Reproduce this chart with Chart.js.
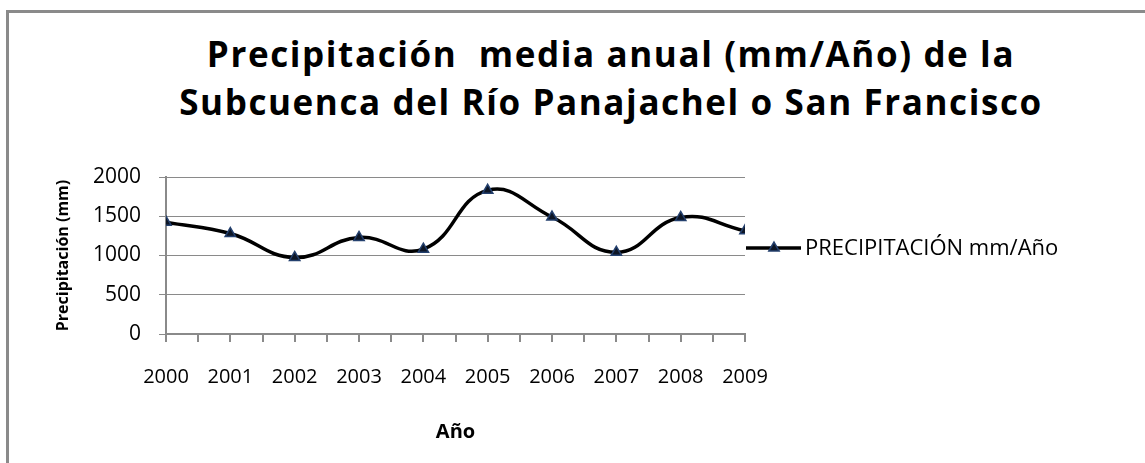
<!DOCTYPE html>
<html>
<head>
<meta charset="utf-8">
<script src="https://cdn.jsdelivr.net/npm/chart.js@4.4.1/dist/chart.umd.min.js"></script>
<style>
  html, body { margin: 0; padding: 0; background: #fff; }
  #wrap { position: relative; width: 1145px; height: 463px; overflow: hidden; }
  #frame {
    position: absolute; left: 6px; top: 10px; right: -20px; bottom: -20px;
    border-top: 3px solid #8a8a8a; border-left: 3px solid #8a8a8a;
  }
  #titulo {
    position: absolute; left: 0; top: 30px; width: 1222px;
    text-align: center; white-space: pre;
    font-family: "Open Sans", sans-serif; font-weight: 700;
    font-size: 35px; line-height: 48px; letter-spacing: 1.6px; color: #000;
  }
  canvas { position: absolute; left: 0; top: 0; }
</style>
</head>
<body>
<div id="wrap">
  <div id="frame"></div>
  <div id="titulo">Precipitación  media anual (mm/Año) de la
Subcuenca del Río Panajachel o San Francisco</div>
  <canvas id="grafico" width="1145" height="463"></canvas>
</div>
<script>
// Precipitación media anual
var ANOS = [2000, 2001, 2002, 2003, 2004, 2005, 2006, 2007, 2008, 2009];
var PRECIPITACION = [1425, 1280, 975, 1230, 1080, 1830, 1490, 1040, 1485, 1315];
var Y_TICKS = [0, 500, 1000, 1500, 2000];
var SERIE = "PRECIPITACIÓN mm/Año";

var GRIS = "#8a8a8a";
var FUENTE = "'Open Sans', sans-serif";

// leyenda dibujada a mano: línea + triángulo, a la derecha del área del gráfico
var leyendaPlugin = {
  id: "leyendaLinea",
  afterDraw: function (chart) {
    var ctx = chart.ctx;
    var ds = chart.data.datasets[0];
    var x0 = chart.chartArea.right + 1;
    var y = 248;
    ctx.save();
    ctx.strokeStyle = ds.borderColor;
    ctx.lineWidth = ds.borderWidth;
    ctx.beginPath();
    ctx.moveTo(x0, y);
    ctx.lineTo(x0 + 55, y);
    ctx.stroke();
    ctx.fillStyle = ds.pointBackgroundColor;
    ctx.strokeStyle = ds.pointBorderColor;
    ctx.lineWidth = ds.pointBorderWidth;
    Chart.helpers.drawPoint(ctx, { pointStyle: "triangle", radius: ds.pointRadius, rotation: 0, borderWidth: ds.pointBorderWidth }, x0 + 28, y);
    ctx.fillStyle = "#000";
    ctx.font = "22px " + FUENTE;
    ctx.textBaseline = "middle";
    ctx.textAlign = "left";
    ctx.fillText(SERIE, x0 + 59, y + 1);
    ctx.restore();
  }
};

new Chart(document.getElementById("grafico"), {
  type: "line",
  data: {
    datasets: [{
      label: SERIE,
      data: ANOS.map(function (a, i) { return { x: a, y: PRECIPITACION[i] }; }),
      borderColor: "#000",
      borderWidth: 3.5,
      tension: 0.45,
      pointStyle: "triangle",
      pointRadius: 6,
      pointBackgroundColor: "#0d1626",
      pointBorderColor: "#24406e",
      pointBorderWidth: 1.5,
      fill: false,
    }],
  },
  options: {
    responsive: false,
    animation: false,
    events: [],
    layout: { padding: { top: 177, right: 400, bottom: 0, left: 0 } },
    scales: {
      x: {
        type: "linear",
        min: 2000,
        max: 2009,
        afterFit: function (s) { s.height = 129; },
        afterBuildTicks: function (s) {
          var t = [];
          for (var v = 2000; v <= 2009; v += 0.5) t.push({ value: v });
          s.ticks = t;
        },
        ticks: {
          autoSkip: false,
          maxRotation: 0,
          padding: 23,
          color: "#000",
          font: { family: FUENTE, size: 20 },
          callback: function (v) { return ANOS.indexOf(v) >= 0 ? String(v) : ""; },
        },
        grid: { drawOnChartArea: false, drawTicks: true, tickLength: 8, color: GRIS, lineWidth: 2 },
        border: { color: GRIS, width: 2 },
        title: {
          display: true,
          text: "Año",
          color: "#000",
          font: { family: FUENTE, size: 20, weight: "bold" },
          padding: { top: 0, bottom: 19 },
        },
      },
      y: {
        min: 0,
        max: 2000,
        afterFit: function (s) { s.width = 166; },
        afterBuildTicks: function (s) {
          s.ticks = Y_TICKS.map(function (v) { return { value: v }; });
        },
        ticks: {
          padding: 18,
          color: "#000",
          font: { family: FUENTE, size: 21 },
          callback: function (v) { return String(v); },
        },
        grid: { color: GRIS, lineWidth: 1, drawTicks: true, tickLength: 7 },
        border: { color: GRIS, width: 2 },
        title: {
          display: true,
          text: "Precipitación (mm)",
          color: "#000",
          font: { family: FUENTE, size: 16, weight: "bold" },
          padding: { top: 54, bottom: 0 },
        },
      },
    },
    plugins: {
      legend: { display: false },
      tooltip: { enabled: false },
    },
  },
  plugins: [leyendaPlugin],
});
</script>
</body>
</html>
